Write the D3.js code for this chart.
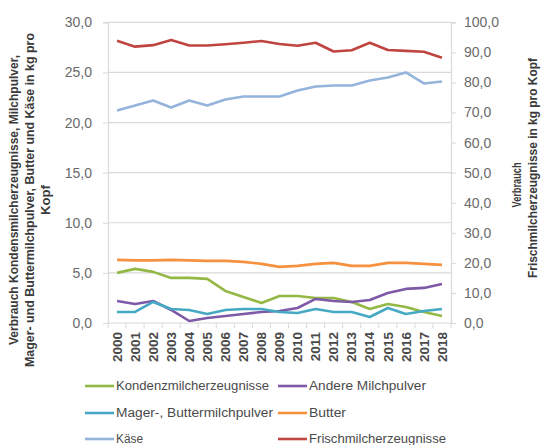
<!DOCTYPE html>
<html><head><meta charset="utf-8">
<script src="https://cdn.jsdelivr.net/npm/d3@7"></script>
<style>body{margin:0;background:#fff}svg{display:block}</style>
</head><body>
<svg id="c" width="541" height="445"></svg>
<script>
const years = ["2000","2001","2002","2003","2004","2005","2006","2007","2008","2009","2010","2011","2012","2013","2014","2015","2016","2017","2018"];
const leftTicks = [0,5,10,15,20,25,30];
const rightTicks = [0,10,20,30,40,50,60,70,80,90,100];
const kondens = [5.0,5.4,5.1,4.5,4.5,4.4,3.2,2.6,2.0,2.7,2.7,2.5,2.5,2.1,1.4,1.9,1.6,1.1,0.7];
const andere  = [2.2,1.9,2.2,1.3,0.2,0.5,0.7,0.9,1.1,1.2,1.5,2.4,2.2,2.1,2.3,3.0,3.4,3.5,3.9];
const mager   = [1.1,1.1,2.1,1.4,1.3,0.9,1.3,1.4,1.4,1.1,1.0,1.4,1.1,1.1,0.6,1.5,0.9,1.2,1.4];
const butter  = [6.3,6.25,6.25,6.3,6.25,6.2,6.2,6.1,5.9,5.6,5.7,5.9,6.0,5.7,5.7,6.0,6.0,5.9,5.8];
const kaese   = [21.2,21.7,22.2,21.5,22.2,21.7,22.3,22.6,22.6,22.6,23.2,23.6,23.7,23.7,24.2,24.5,25.0,23.9,24.1];
const frisch  = [93.9,91.9,92.4,94.1,92.3,92.3,92.7,93.2,93.8,92.8,92.2,93.2,90.3,90.7,93.2,90.8,90.5,90.2,88.2];

const series = [
  {name:"Kondenzmilcherzeugnisse", values:kondens, color:"#93b846", axis:"L", lx:85, ly:386, tl:153},
  {name:"Andere Milchpulver", values:andere, color:"#7d59a8", axis:"L", lx:278, ly:386, tl:117},
  {name:"Mager-, Buttermilchpulver", values:mager, color:"#46a9c4", axis:"L", lx:85, ly:413, tl:157},
  {name:"Butter", values:butter, color:"#f5913f", axis:"L", lx:278, ly:413, tl:37},
  {name:"Käse", values:kaese, color:"#94b4dc", axis:"L", lx:85, ly:439, tl:27},
  {name:"Frischmilcherzeugnisse", values:frisch, color:"#c0443f", axis:"R", lx:278, ly:439, tl:137}
];

const svg = d3.select("#c");
const font = "'Liberation Sans', Arial, sans-serif";
const L = 108, R = 451, T = 22.3, B = 323;
const x = d3.scaleBand().domain(years).range([L, R]);
const yL = d3.scaleLinear().domain([0,30]).range([B, T]);
const yR = d3.scaleLinear().domain([0,100]).range([B, T]);

// gridlines
svg.append("g").selectAll("line").data(leftTicks.filter(d=>d>0)).join("line")
  .attr("x1", L).attr("x2", R).attr("y1", d=>yL(d)).attr("y2", d=>yL(d))
  .attr("stroke", "#d9d9d9").attr("stroke-width", 1.2);

// left axis
const gL = svg.append("g").attr("transform", `translate(${L},0)`)
  .call(d3.axisLeft(yL).tickValues(leftTicks).tickSize(5).tickPadding(11)
    .tickFormat(d => d3.format(".1f")(d).replace(".", ",")));
gL.select(".domain").attr("stroke", "#d9d9d9").attr("stroke-width", 1.2);
gL.selectAll(".tick line").attr("stroke", "#d9d9d9");
gL.selectAll("text").attr("font-family", font).attr("font-size", 14).attr("fill", "#6a6a6a");

// right axis
const gR = svg.append("g").attr("transform", `translate(${R},0)`)
  .call(d3.axisRight(yR).tickValues(rightTicks).tickSize(5).tickPadding(8)
    .tickFormat(d => d3.format(".1f")(d).replace(".", ",")));
gR.select(".domain").attr("stroke", "#d9d9d9").attr("stroke-width", 1.2);
gR.selectAll(".tick line").attr("stroke", "#d9d9d9");
gR.selectAll("text").attr("font-family", font).attr("font-size", 14).attr("fill", "#6a6a6a");

// bottom axis
svg.append("line").attr("x1", L).attr("x2", R).attr("y1", B).attr("y2", B)
  .attr("stroke", "#d9d9d9").attr("stroke-width", 1.2);
const bounds = years.map(d => x(d)).concat([R]);
svg.append("g").selectAll("line").data(bounds).join("line")
  .attr("x1", d=>d).attr("x2", d=>d).attr("y1", B).attr("y2", B+5)
  .attr("stroke", "#d9d9d9");
svg.append("g").selectAll("text").data(years).join("text")
  .attr("transform", d => `translate(${x(d)+x.bandwidth()/2},${B+9}) rotate(-90)`)
  .attr("text-anchor", "end").attr("dy", "0.35em")
  .attr("font-family", font).attr("font-size", 13.5).attr("font-weight", "bold").attr("fill", "#4a4a4a")
  .text(d => d);

// lines
series.forEach(s => {
  const ys = s.axis === "L" ? yL : yR;
  const line = d3.line().x((d,i) => x(years[i]) + x.bandwidth()/2).y(d => ys(d));
  svg.append("path").datum(s.values).attr("d", line)
    .attr("fill", "none").attr("stroke", s.color).attr("stroke-width", 2.6)
    .attr("stroke-linejoin", "round");
});

// axis titles
const leftTitle = [
  {t:"Verbrauch Kondensmilcherzeugnisse, Milchpulver,", x:14, y:200, len:290},
  {t:"Mager- und Buttermilchpulver, Butter und Käse in kg pro", x:30, y:200, len:334},
  {t:"Kopf", x:46, y:200, len:30}
];
const rightTitle = [
  {t:"Verbrauch", x:517, y:185, len:45},
  {t:"Frischmilcherzeugnisse in kg pro Kopf", x:533, y:168, len:220}
];
svg.append("g").selectAll("text").data(leftTitle.concat(rightTitle)).join("text")
  .attr("transform", d => `translate(${d.x},${d.y}) rotate(-90)`)
  .attr("text-anchor", "middle").attr("dy", "0.35em")
  .attr("font-family", font).attr("font-size", 12.5).attr("font-weight", "bold").attr("fill", "#3a3a3a")
  .attr("textLength", d => d.len).attr("lengthAdjust", "spacingAndGlyphs")
  .text(d => d.t);

// legend
const lg = svg.append("g");
series.forEach(s => {
  lg.append("line").attr("x1", s.lx).attr("x2", s.lx+29).attr("y1", s.ly).attr("y2", s.ly)
    .attr("stroke", s.color).attr("stroke-width", 2.6);
  lg.append("text").attr("x", s.lx+31).attr("y", s.ly).attr("dy", "0.35em")
    .attr("font-family", font).attr("font-size", 12.5).attr("fill", "#4a4a4a")
    .attr("textLength", s.tl).attr("lengthAdjust", "spacingAndGlyphs")
    .text(s.name);
});
</script>
</body></html>
